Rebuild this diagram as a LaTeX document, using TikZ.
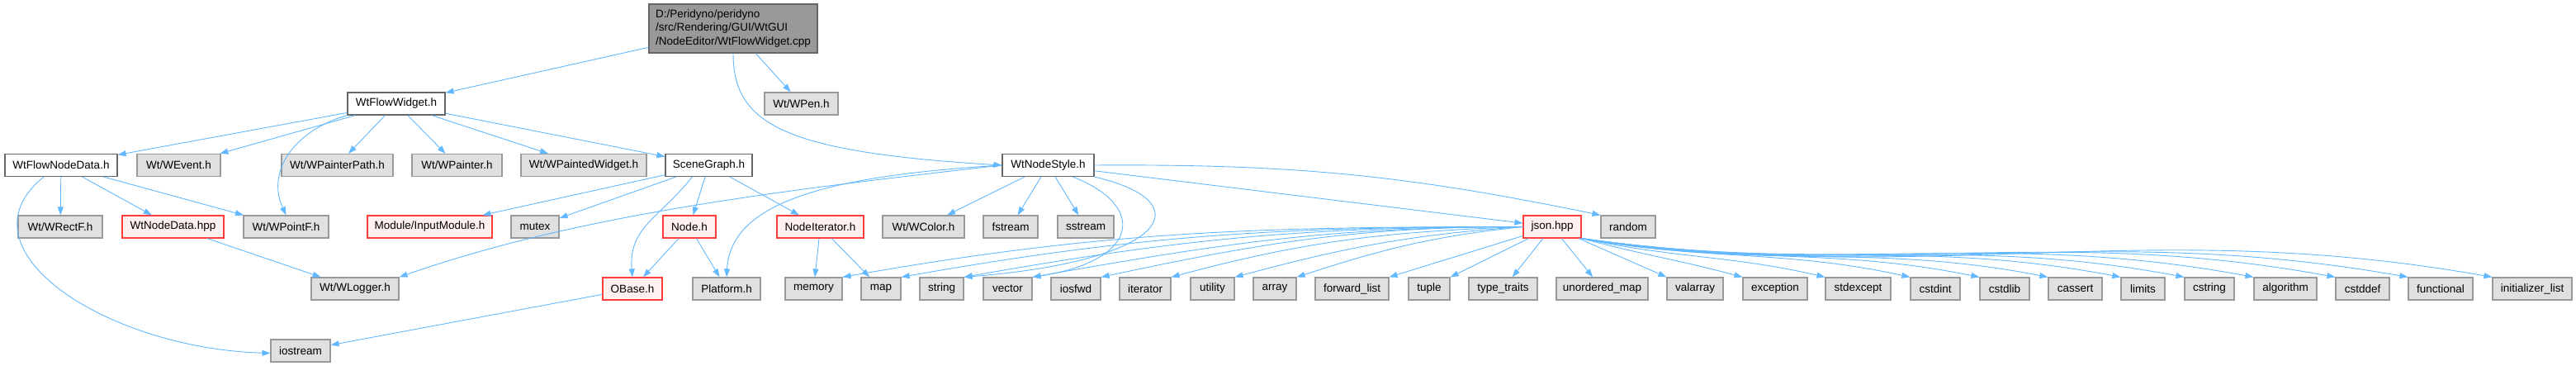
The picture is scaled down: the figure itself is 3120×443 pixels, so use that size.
\documentclass[tikz,border=0pt]{standalone}
\usepackage{xcolor}
\usepackage{fontspec}
\setmainfont{Liberation Sans}
\usepackage{tikz}
\usetikzlibrary{arrows.meta}
\definecolor{incblue}{RGB}{99, 184, 255}
\definecolor{sysgray}{RGB}{224, 224, 224}
\definecolor{sysedge}{RGB}{153, 153, 153}
\definecolor{hdredge}{RGB}{102, 102, 102}
\definecolor{rootgray}{RGB}{153, 153, 153}
\definecolor{redfill}{RGB}{255, 240, 240}
\definecolor{rededge}{RGB}{255, 60, 60}

\begin{document}
\begin{tikzpicture}[x=1pt, y=1pt, >={Triangle[length=10pt, width=7pt]},
    every node/.style={rectangle, inner sep=0pt, minimum height=27pt, line width=1.2pt, font=\fontsize{13.5}{16.3}\selectfont},
    hfile/.style={draw=hdredge, fill=white},
    sysfile/.style={draw=sysedge, fill=sysgray},
    redfile/.style={draw=rededge, fill=redfill},
    rootfile/.style={draw=hdredge, fill=rootgray, minimum height=59pt, align=left},
    inc/.style={->, draw=incblue, line width=0.9pt}]
				\useasboundingbox (0,0) rectangle (3120,-443);

				% top
				\node[rootfile, minimum width=204pt] (root) at (888,-34.5) {D:/Peridyno/peridyno\\/src/Rendering/GUI/WtGUI\\/NodeEditor/WtFlowWidget.cpp};
				\node[hfile, minimum width=118pt] (wfw) at (480,-125.5) {WtFlowWidget.h};
				\node[sysfile, minimum width=89pt] (pen) at (970.5,-125.5) {Wt/WPen.h};

				% second row
				\node[hfile, minimum width=136pt] (fnd) at (74,-200) {WtFlowNodeData.h};
				\node[sysfile, minimum width=101pt] (event) at (216.5,-200) {Wt/WEvent.h};
				\node[sysfile, minimum width=135pt] (ppath) at (408.5,-200) {Wt/WPainterPath.h};
				\node[sysfile, minimum width=109pt] (painter) at (553.5,-200) {Wt/WPainter.h};
				\node[sysfile, minimum width=152pt] (pwidget) at (707,-200) {Wt/WPaintedWidget.h};
				\node[hfile, minimum width=105pt] (sg) at (858.5,-200) {SceneGraph.h};
				\node[hfile, minimum width=111pt] (nstyle) at (1269.5,-200) {WtNodeStyle.h};

				% third row
				\node[sysfile, minimum width=102pt] (rectf) at (73,-274.5) {Wt/WRectF.h};
				\node[redfile, minimum width=123pt] (ndata) at (209.5,-274.5) {WtNodeData.hpp};
				\node[sysfile, minimum width=103pt] (pointf) at (346.5,-274.5) {Wt/WPointF.h};
				\node[redfile, minimum width=151pt] (inmod) at (520.5,-274.5) {Module/InputModule.h};
				\node[sysfile, minimum width=58pt] (mutex) at (648,-274.5) {mutex};
				\node[redfile, minimum width=64pt] (node) at (835,-274.5) {Node.h};
				\node[redfile, minimum width=105pt] (nodeit) at (993.5,-274.5) {NodeIterator.h};
				\node[sysfile, minimum width=99pt] (wcolor) at (1118.5,-274.5) {Wt/WColor.h};
				\node[sysfile, minimum width=66pt] (fstream) at (1224,-274.5) {fstream};
				\node[sysfile, minimum width=68pt] (sstream) at (1315,-274.5) {sstream};
				\node[redfile, minimum width=70pt] (json) at (1880,-274.5) {json.hpp};
				\node[sysfile, minimum width=66pt] (random) at (1972,-274.5) {random};

				% fourth row
				\node[sysfile, minimum width=106pt] (logger) at (430,-349.5) {Wt/WLogger.h};
				\node[redfile, minimum width=72pt] (obase) at (766,-349.5) {OBase.h};
				\node[sysfile, minimum width=82pt] (platform) at (880,-349.5) {Platform.h};
				\node[sysfile, minimum width=69pt] (memory) at (985.5,-349.5) {memory};
				\node[sysfile, minimum width=48pt] (map) at (1067,-349.5) {map};
				\node[sysfile, minimum width=53pt] (string) at (1140.5,-349.5) {string};
				\node[sysfile, minimum width=59pt] (vector) at (1220.5,-349.5) {vector};
				\node[sysfile, minimum width=60pt] (iosfwd) at (1303,-349.5) {iosfwd};
				\node[sysfile, minimum width=62pt] (iterator) at (1387,-349.5) {iterator};
				\node[sysfile, minimum width=53pt] (utility) at (1468.5,-349.5) {utility};
				\node[sysfile, minimum width=52pt] (array) at (1544,-349.5) {array};
				\node[sysfile, minimum width=89pt] (fwdlist) at (1637.5,-349.5) {forward\_list};
				\node[sysfile, minimum width=50pt] (tuple) at (1731,-349.5) {tuple};
				\node[sysfile, minimum width=83pt] (ttraits) at (1820.5,-349.5) {type\_traits};
				\node[sysfile, minimum width=111pt] (umap) at (1940.5,-349.5) {unordered\_map};
				\node[sysfile, minimum width=68pt] (valarray) at (2053,-349.5) {valarray};
				\node[sysfile, minimum width=78pt] (exception) at (2150,-349.5) {exception};
				\node[sysfile, minimum width=79pt] (stdexcept) at (2250.5,-349.5) {stdexcept};
				\node[sysfile, minimum width=60pt] (cstdint) at (2344,-349.5) {cstdint};
				\node[sysfile, minimum width=60pt] (cstdlib) at (2428,-349.5) {cstdlib};
				\node[sysfile, minimum width=65pt] (cassert) at (2513.5,-349.5) {cassert};
				\node[sysfile, minimum width=53pt] (limits) at (2595.5,-349.5) {limits};
				\node[sysfile, minimum width=60pt] (cstring) at (2676,-349.5) {cstring};
				\node[sysfile, minimum width=76pt] (algorithm) at (2768,-349.5) {algorithm};
				\node[sysfile, minimum width=65pt] (cstddef) at (2861.5,-349.5) {cstddef};
				\node[sysfile, minimum width=78pt] (functional) at (2956,-349.5) {functional};
				\node[sysfile, minimum width=96pt] (initlist) at (3067,-349.5) {initializer\_list};

				% bottom
				\node[sysfile, minimum width=72pt] (iostream) at (364,-424.5) {iostream};

				% includes of the cpp file
				\draw[inc] (root) -- (wfw);
				\draw[inc] (root) -- (pen);
				\draw[inc] (root.south) .. controls +(0,-86) and +(-264,16) .. (nstyle.west);

				% WtFlowWidget.h
				\draw[inc] (wfw) -- (fnd);
				\draw[inc] (wfw) -- (event);
				\draw[inc] (wfw.south west) .. controls +(-61,-17) and +(-25,55) .. (pointf.north);
				\draw[inc] (wfw) -- (ppath);
				\draw[inc] (wfw) -- (painter);
				\draw[inc] (wfw) -- (pwidget);
				\draw[inc] (wfw) -- (sg);

				% WtFlowNodeData.h
				\draw[inc] (fnd) -- (rectf);
				\draw[inc] (fnd) -- (ndata);
				\draw[inc] (fnd) -- (pointf);
				\draw[inc] ([xshift=-21pt]fnd.south) .. controls +(-108,-87) and +(-200,6) .. ([yshift=-3pt]iostream.west);
				\draw[inc] (ndata) -- (logger);

				% SceneGraph.h
				\draw[inc] (sg) -- (inmod);
				\draw[inc] (sg) -- (mutex);
				\draw[inc] (sg) -- (node);
				\draw[inc] (sg) -- (nodeit);
				\draw[inc] ([xshift=-20pt]sg.south) .. controls +(-40,-50) and +(-5,60) .. (obase.north);
				\draw[inc] (node) -- (obase);
				\draw[inc] (node) -- (platform);
				\draw[inc] (nodeit) -- (memory);
				\draw[inc] (nodeit) -- (map);
				\draw[inc] (obase) -- (iostream);

				% WtNodeStyle.h
				\draw[inc] (nstyle.west) .. controls +(-264,-30) and +(217,76) .. (logger.north east);
				\draw[inc] (nstyle.west) .. controls +(-214,-13) and +(5,90) .. (platform.north);
				\draw[inc] (nstyle) -- (wcolor);
				\draw[inc] (nstyle) -- (fstream);
				\draw[inc] (nstyle) -- (sstream);
				\draw[inc] ([xshift=30pt]nstyle.south) .. controls +(90,-35) and +(130,20) .. (vector.north east);
				\draw[inc] (nstyle.south east) .. controls +(130,-30) and +(250,20) .. (string.north east);
				\draw[inc] (nstyle) -- (json);
				\draw[inc] (nstyle.east) to[bend left=6] (random.north west);

				% json.hpp
				\draw[inc] (json.west) to[out=180, in=10] (memory.north east);
				\draw[inc] (json.west) to[out=180, in=10] (map.north east);
				\draw[inc] (json.west) to[out=180, in=10] (string.north east);
				\draw[inc] (json.west) to[out=180, in=10] (vector.north east);
				\draw[inc] (json.west) to[out=180, in=12] (iosfwd.north east);
				\draw[inc] (json.west) to[out=182, in=15] (iterator.north east);
				\draw[inc] (json.west) to[out=184, in=15] (utility.north east);
				\draw[inc] (json.west) to[out=186, in=18] (array.north east);
				\draw[inc] (json) -- (fwdlist.north east);
				\draw[inc] (json) -- (tuple.north east);
				\draw[inc] (json) -- (ttraits);
				\draw[inc] (json) -- (umap);
				\draw[inc] (json) -- (valarray.north west);
				\draw[inc] (json.south east) .. controls +(75,-20) and +(-74,20) .. (exception.north west);
				\draw[inc] (json.south east) .. controls +(113,-24) and +(-112,26) .. (stdexcept.north west);
				\draw[inc] (json.south east) .. controls +(154,-27) and +(-151,33) .. (cstdint.north west);
				\draw[inc] (json.south east) .. controls +(186,-32) and +(-183,37) .. (cstdlib.north west);
				\draw[inc] (json.south east) .. controls +(218,-38) and +(-215,42) .. (cassert.north west);
				\draw[inc] (json.south east) .. controls +(253,-40) and +(-251,48) .. (limits.north west);
				\draw[inc] (json.south east) .. controls +(283,-44) and +(-281,53) .. (cstring.north west);
				\draw[inc] (json.south east) .. controls +(316,-45) and +(-313,58) .. (algorithm.north west);
				\draw[inc] (json.south east) .. controls +(354,-50) and +(-351,64) .. (cstddef.north west);
				\draw[inc] (json.south east) .. controls +(388,-55) and +(-386,68) .. (functional.north west);
				\draw[inc] (json.south east) .. controls +(428,-60) and +(-425,75) .. (initlist.north west);
			\end{tikzpicture}
\end{document}
